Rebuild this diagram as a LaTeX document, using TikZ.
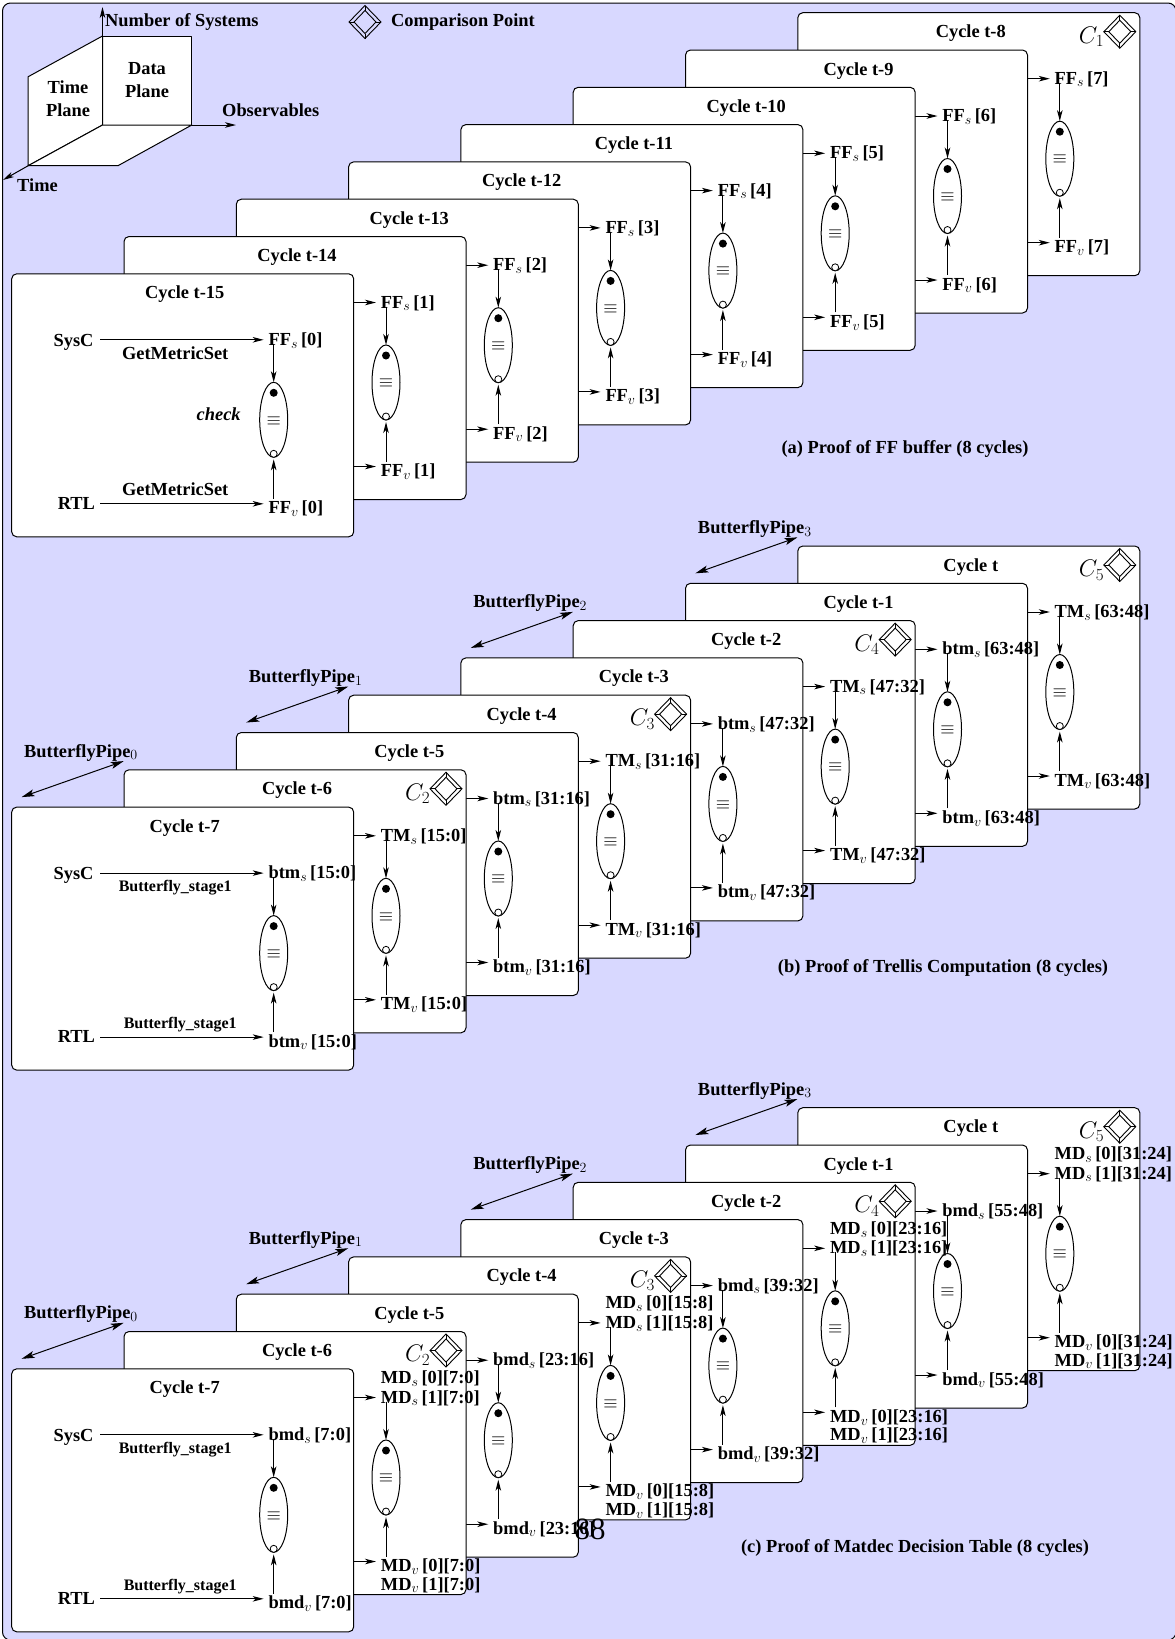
\documentclass[tikz,border=0pt]{standalone}
\usepackage{fix-cm}
\usepackage[no-math]{fontspec}
\setmainfont{Liberation Serif}
\usetikzlibrary{shapes.geometric,arrows.meta}
\DeclareMathSizes{18.4}{18.4}{14}{10}
\DeclareMathSizes{24}{24}{17}{12}
\definecolor{panelbg}{RGB}{216,216,255}
\newcommand{\subsc}[1]{$_{#1}$\kern3pt}
\tikzset{
  txt/.style={font=\fontsize{18.4}{22.8}\selectfont\bfseries,inner sep=0pt,align=center},
  ttl/.style={txt,anchor=base},
  lab/.style={txt,anchor=base west,inner xsep=4.7pt,inner ysep=0pt},
  sm/.style={txt,font=\fontsize{16}{19}\selectfont\bfseries},
  cardbox/.style={draw=black,fill=white,line width=1pt,rounded corners=5pt,minimum width=342pt,minimum height=263pt,anchor=north west,inner sep=0pt,outer sep=0pt},
  eqell/.style={ellipse,draw=black,fill=white,line width=1pt,minimum width=28pt,minimum height=75pt,inner sep=0pt,outer sep=0pt},
  fulldot/.style={circle,fill=black,minimum size=8pt,inner sep=0pt},
  opendot/.style={circle,draw=black,fill=white,line width=.8pt,minimum size=7pt,inner sep=0pt},
  dout/.style={diamond,draw=black,line width=.9pt,minimum width=32pt,minimum height=33pt,inner sep=0pt,outer sep=0pt},
  din/.style={diamond,draw=black,line width=.9pt,minimum width=22pt,minimum height=23pt,inner sep=0pt,outer sep=0pt},
  arr/.style={line width=1pt,-{Stealth[length=11pt,width=5.5pt,inset=3pt]}},
  bigarr/.style={line width=1pt,{Stealth[length=13pt,width=7pt,inset=3pt]}-{Stealth[length=13pt,width=7pt,inset=3pt]}},
  plane/.style={draw=black,fill=white,line width=1pt,line join=round}
}
\newcommand{\cmpmark}[3]{%
  \node[dout] (#1-o) at (#2,#3) {};
  \node[din] (#1-i) at (#2,#3) {};
  \draw[line width=.8pt] (#1-o.north)--(#1-i.north) (#1-o.south)--(#1-i.south) (#1-o.east)--(#1-i.east) (#1-o.west)--(#1-i.west);
}
% id, title, top label, bottom label, extra top, extra bottom, C index
\newcommand{\cardcore}[7]{%
  \node[cardbox] (#1) at (0,0) {};
  \node[ttl] (#1-t) at (173,25) {#2};
  \node[lab] (#1-s) at (252,71.5) {#3};
  \node[lab] (#1-v) at (252,240) {#4};
  \if\relax\detokenize{#5}\relax\else\node[lab] (#1-sx) at (252,52) {#5};\fi
  \if\relax\detokenize{#6}\relax\else\node[lab] (#1-vx) at (252,258.5) {#6};\fi
  \if\relax\detokenize{#7}\relax\else
    \node[txt,font=\fontsize{24}{28}\selectfont] (#1-c) at (293.7,24) {$C_{#7}$};
    \cmpmark{#1-d}{322}{19}
  \fi
  \node[eqell] (#1-e) at (262,146) {};
  \node[fulldot] (#1-f) at (262,119) {};
  \node[opendot] (#1-n) at (262,180) {};
  \node[txt,font=\fontsize{18.4}{22}\selectfont] (#1-q) at (262,147) {$\equiv$};
  \coordinate (#1-vs) at (262,70);
  \coordinate (#1-vb) at (262,225);
  \coordinate (#1-ta) at (229,66);
  \coordinate (#1-ba) at (229,230);
  \draw[arr] (#1-vs) -- (#1-e.north);
  \draw[arr] (#1-vb) -- ([yshift=-2pt]#1-e.south);
}
% k, base, id, title, top, bottom, extra top, extra bottom, C
\newcommand{\backcard}[9]{%
  \begin{scope}[shift={({11.7+112.3*#1},{#2+37.3*(7-#1)})}]
    \cardcore{#3}{#4}{#5}{#6}{#7}{#8}{#9}
    \draw[arr] (#3-ta) -- (#3-s.west |- #3-ta);
    \draw[arr] (#3-ba) -- (#3-v.west |- #3-ba);
  \end{scope}
}
% base, id, title, top, bottom, upper text, lower text
\newcommand{\frontcard}[7]{%
  \begin{scope}[shift={(11.7,{#1+37.3*7})}]
    \cardcore{#2}{#3}{#4}{#5}{}{}{}
    \node[txt,anchor=base east,inner xsep=6.7pt] (#2-sc) at (88.7,72.5) {SysC};
    \node[txt,anchor=base east,inner xsep=5.2pt] (#2-rt) at (88.7,235.5) {RTL};
    \draw[arr] (#2-sc.east |- #2-ta) -- (#2-s.west |- #2-ta);
    \draw[arr] (#2-rt.east |- #2-ba) -- (#2-v.west |- #2-ba);
    #6
    #7
  \end{scope}
}
% k, base, id, index
\newcommand{\pipearrow}[4]{%
  \begin{scope}[shift={({11.7+112.3*#1},{#2+37.3*(7-#1)})}]
    \coordinate (#3-a) at (-102.4,27.3);
    \coordinate (#3-b) at (-0.3,-8.7);
    \draw[bigarr] (#3-a) -- (#3-b);
    \node[ttl] (#3-l) at (-43,-12.7) {ButterflyPipe$_{#4}$};
  \end{scope}
}
\begin{document}
\begin{tikzpicture}[x=1pt,y=-1pt]
\useasboundingbox (0,0) rectangle (1175,1639);
\draw[draw=black,fill=panelbg,line width=1pt,rounded corners=8pt] (2.5,3) rectangle (1176,1640);

% legend
\coordinate (axtop) at (102.5,7);
\coordinate (pA) at (102.5,36);
\coordinate (pB) at (191.8,36);
\coordinate (pC) at (191.8,125);
\coordinate (pD) at (102.5,125);
\coordinate (pE) at (28.2,76.7);
\coordinate (pF) at (28.2,165.7);
\coordinate (pG) at (118,165.7);
\coordinate (axobs) at (236,125);
\coordinate (axtime) at (3,180);
\draw[plane] (pA) -- (pB) -- (pC) -- (pD) -- cycle;
\draw[plane] (pA) -- (pE) -- (pF) -- (pD) -- cycle;
\draw[plane] (pF) -- (pG) -- (pC) -- (pD) -- cycle;
\draw[arr] (pA) -- (axtop);
\draw[arr] (pC) -- (axobs);
\draw[arr] (pF) -- (axtime);
\node[txt,anchor=west] (lnum) at (105,22.5) {Number of Systems};
\node[txt,anchor=west] (lobs) at (222,110) {Observables};
\node[txt,anchor=west] (ltime) at (17,185) {Time};
\node[txt] (ltp) at (68,98.5) {Time\\Plane};
\node[txt] (ldp) at (147,80) {Data\\Plane};
\cmpmark{leg}{365}{22}
\node[txt,anchor=west] (lcmp) at (391,22.5) {Comparison Point};

% panel a
\backcard{7}{12.7}{a7}{Cycle t-8}{FF\subsc{s}[7]}{FF\subsc{v}[7]}{}{}{1}
\backcard{6}{12.7}{a6}{Cycle t-9}{FF\subsc{s}[6]}{FF\subsc{v}[6]}{}{}{}
\backcard{5}{12.7}{a5}{Cycle t-10}{FF\subsc{s}[5]}{FF\subsc{v}[5]}{}{}{}
\backcard{4}{12.7}{a4}{Cycle t-11}{FF\subsc{s}[4]}{FF\subsc{v}[4]}{}{}{}
\backcard{3}{12.7}{a3}{Cycle t-12}{FF\subsc{s}[3]}{FF\subsc{v}[3]}{}{}{}
\backcard{2}{12.7}{a2}{Cycle t-13}{FF\subsc{s}[2]}{FF\subsc{v}[2]}{}{}{}
\backcard{1}{12.7}{a1}{Cycle t-14}{FF\subsc{s}[1]}{FF\subsc{v}[1]}{}{}{}
\frontcard{12.7}{a0}{Cycle t-15}{FF\subsc{s}[0]}{FF\subsc{v}[0]}%
  {\node[txt] (a0-g1) at (163.5,79) {GetMetricSet};
   \node[txt] (a0-g2) at (163.5,215) {GetMetricSet};
   \node[txt,font=\fontsize{18.4}{22}\selectfont\bfseries\itshape] (a0-ch) at (207,140) {check};}{}
\node[txt] (capa) at (905,448.5) {(a) Proof of FF buffer (8 cycles)};

% panel b
\pipearrow{7}{546}{bp3}{3}
\pipearrow{5}{546}{bp2}{2}
\pipearrow{3}{546}{bp1}{1}
\pipearrow{1}{546}{bp0}{0}
\backcard{7}{546}{b7}{Cycle t}{TM\subsc{s}[63:48]}{TM\subsc{v}[63:48]}{}{}{5}
\backcard{6}{546}{b6}{Cycle t-1}{btm\subsc{s}[63:48]}{btm\subsc{v}[63:48]}{}{}{}
\backcard{5}{546}{b5}{Cycle t-2}{TM\subsc{s}[47:32]}{TM\subsc{v}[47:32]}{}{}{4}
\backcard{4}{546}{b4}{Cycle t-3}{btm\subsc{s}[47:32]}{btm\subsc{v}[47:32]}{}{}{}
\backcard{3}{546}{b3}{Cycle t-4}{TM\subsc{s}[31:16]}{TM\subsc{v}[31:16]}{}{}{3}
\backcard{2}{546}{b2}{Cycle t-5}{btm\subsc{s}[31:16]}{btm\subsc{v}[31:16]}{}{}{}
\backcard{1}{546}{b1}{Cycle t-6}{TM\subsc{s}[15:0]}{TM\subsc{v}[15:0]}{}{}{2}
\frontcard{546}{b0}{Cycle t-7}{btm\subsc{s}[15:0]}{btm\subsc{v}[15:0]}%
  {\node[sm] (b0-g1) at (163.5,81) {Butterfly\_stage1};}%
  {\node[sm] (b0-g2) at (168.5,217.5) {Butterfly\_stage1};}
\node[txt] (capb) at (943,968) {(b) Proof of Trellis Computation (8 cycles)};

% panel c
\pipearrow{7}{1107.7}{cp3}{3}
\pipearrow{5}{1107.7}{cp2}{2}
\pipearrow{3}{1107.7}{cp1}{1}
\pipearrow{1}{1107.7}{cp0}{0}
\backcard{7}{1107.7}{c7}{Cycle t}{MD\subsc{s}[1][31:24]}{MD\subsc{v}[0][31:24]}{MD\subsc{s}[0][31:24]}{MD\subsc{v}[1][31:24]}{5}
\backcard{6}{1107.7}{c6}{Cycle t-1}{bmd\subsc{s}[55:48]}{bmd\subsc{v}[55:48]}{}{}{}
\backcard{5}{1107.7}{c5}{Cycle t-2}{MD\subsc{s}[1][23:16]}{MD\subsc{v}[0][23:16]}{MD\subsc{s}[0][23:16]}{MD\subsc{v}[1][23:16]}{4}
\backcard{4}{1107.7}{c4}{Cycle t-3}{bmd\subsc{s}[39:32]}{bmd\subsc{v}[39:32]}{}{}{}
\backcard{3}{1107.7}{c3}{Cycle t-4}{MD\subsc{s}[1][15:8]}{MD\subsc{v}[0][15:8]}{MD\subsc{s}[0][15:8]}{MD\subsc{v}[1][15:8]}{3}
\backcard{2}{1107.7}{c2}{Cycle t-5}{bmd\subsc{s}[23:16]}{bmd\subsc{v}[23:16]}{}{}{}
\backcard{1}{1107.7}{c1}{Cycle t-6}{MD\subsc{s}[1][7:0]}{MD\subsc{v}[0][7:0]}{MD\subsc{s}[0][7:0]}{MD\subsc{v}[1][7:0]}{2}
\frontcard{1107.7}{c0}{Cycle t-7}{bmd\subsc{s}[7:0]}{bmd\subsc{v}[7:0]}%
  {\node[sm] (c0-g1) at (163.5,81) {Butterfly\_stage1};}%
  {\node[sm] (c0-g2) at (168.5,217.5) {Butterfly\_stage1};}
\node[txt] (capc) at (915,1548) {(c) Proof of Matdec Decision Table (8 cycles)};

\node[inner sep=0pt,font=\fontsize{31}{34}\selectfont] (pageno) at (590,1529.5) {88};
\end{tikzpicture}
\end{document}
